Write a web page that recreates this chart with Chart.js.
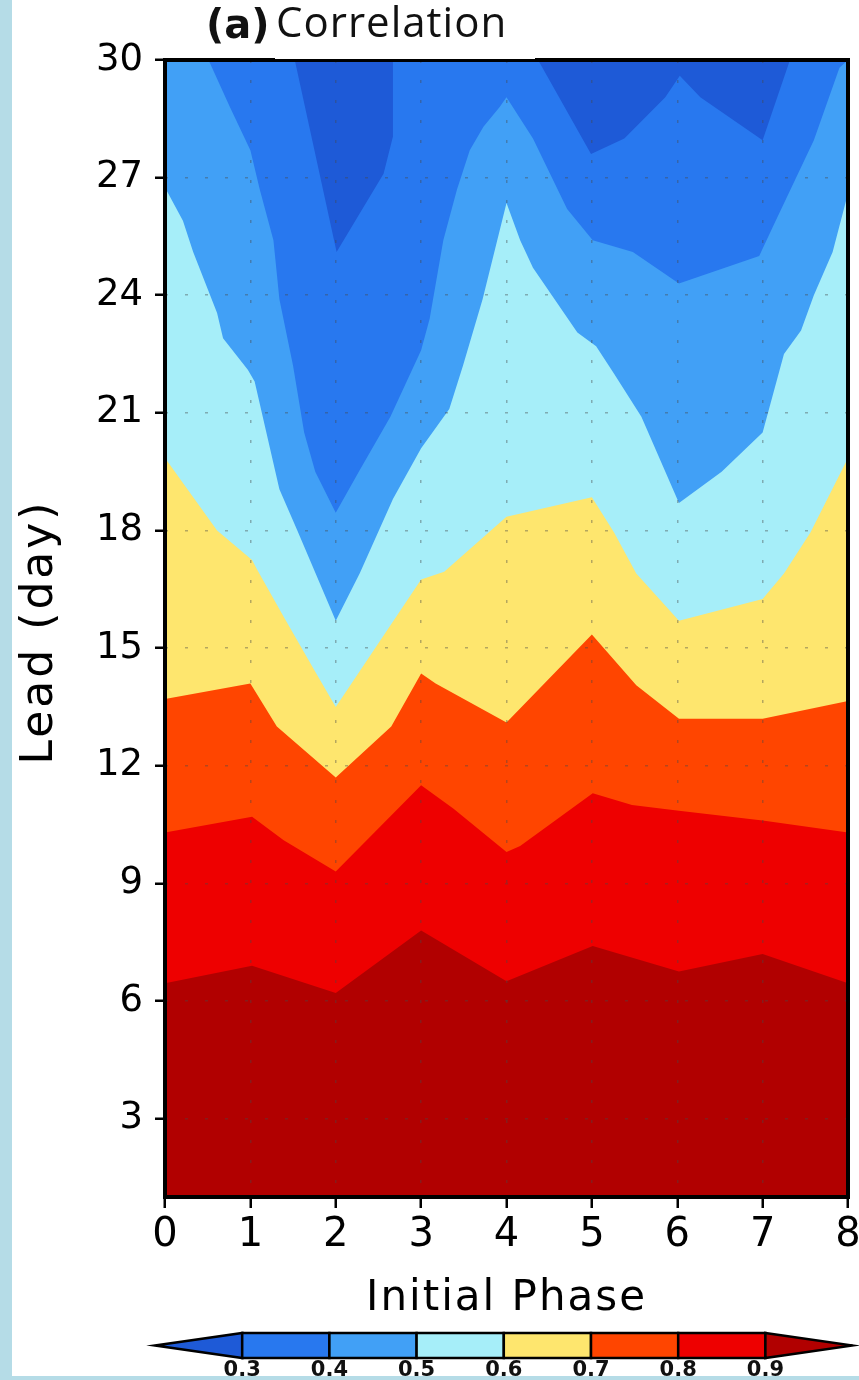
<!DOCTYPE html>
<html>
<head>
<meta charset="utf-8">
<title>Correlation</title>
<script src="https://cdn.jsdelivr.net/npm/chart.js@4.4.1/dist/chart.umd.min.js"></script>
<style>
  body { margin: 0; background: #b5dce7; }
  #panel { position: absolute; left: 12px; top: 0; width: 847px; height: 1376px; background: #fff; overflow: hidden; }
</style>
</head>
<body>
<div id="panel"><canvas id="corrChart"></canvas></div>
<script>
// contour levels and the colour of each band (below 0.3 ... above 0.9)
const levels = [0.3, 0.4, 0.5, 0.6, 0.7, 0.8, 0.9];
const bandColors = ["#1e5ad7", "#2878ef", "#41a0f6", "#a6eef9", "#fee66e", "#ff4500", "#ee0000", "#b10000"];

const phaseTicks = [0, 1, 2, 3, 4, 5, 6, 7, 8];
const leadTicks = [3, 6, 9, 12, 15, 18, 21, 24, 27, 30];
const phaseRange = [0, 8];
const leadRange = [1, 30];

// where the correlation crosses each level: [initial phase, lead day]
const line03 = [[0, 30], [1.52, 30], [2.01, 25.1], [2.56, 27.1], [2.67, 28.05], [2.67, 30], [4.37, 30],
  [4.99, 27.6], [5.38, 28.0], [5.86, 29.05], [6.03, 29.6], [6.27, 29.05], [7.0, 27.95], [7.32, 30], [8, 30]];
const line04 = [[0, 30], [0.51, 30], [0.76, 28.8], [1.0, 27.7], [1.11, 26.7], [1.27, 25.4], [1.34, 23.9],
  [1.5, 22.2], [1.63, 20.5], [1.76, 19.5], [2.0, 18.45], [2.27, 19.5], [2.64, 20.9], [3.0, 22.6], [3.1, 23.4],
  [3.26, 25.4], [3.42, 26.7], [3.57, 27.7], [3.73, 28.3], [3.92, 28.8], [4.0, 29.05], [4.31, 28.0],
  [4.71, 26.2], [5.01, 25.4], [5.48, 25.1], [6.02, 24.3], [6.96, 25.0], [7.12, 25.75], [7.6, 27.95],
  [7.9, 29.8], [8, 30]];
const line05 = [[0, 26.75], [0.21, 25.9], [0.33, 25.1], [0.61, 23.55], [0.68, 22.9], [0.97, 22.1],
  [1.05, 21.8], [1.34, 19.05], [1.55, 18.0], [2.0, 15.7], [2.28, 16.9], [2.67, 18.8], [3.0, 20.1],
  [3.33, 21.1], [3.49, 22.2], [3.72, 23.9], [4.0, 26.35], [4.16, 25.4], [4.31, 24.7], [4.83, 23.05],
  [5.05, 22.7], [5.26, 22.0], [5.58, 20.9], [6.02, 18.7], [6.52, 19.5], [7.0, 20.5], [7.25, 22.5],
  [7.45, 23.1], [7.6, 24.0], [7.82, 25.1], [8, 26.6]];
const line06 = [[0, 19.85], [0.61, 18.0], [1.02, 17.25], [1.08, 17.0], [1.39, 15.8], [1.76, 14.4],
  [2.0, 13.5], [3.0, 16.75], [3.27, 16.95], [4.0, 18.35], [5.0, 18.85], [5.26, 17.95], [5.52, 16.9],
  [6.02, 15.7], [7.0, 16.25], [7.25, 16.9], [7.56, 17.95], [8, 19.85]];
const line07 = [[0, 13.7], [1.0, 14.1], [1.31, 13.0], [2.0, 11.7], [2.65, 13.0], [3.0, 14.35], [3.17, 14.1],
  [4.0, 13.1], [5.0, 15.35], [5.52, 14.05], [6.02, 13.2], [7.0, 13.2], [8, 13.65]];
const line08 = [[0, 10.3], [1.02, 10.7], [1.39, 10.1], [2.0, 9.3], [3.0, 11.5], [3.38, 10.9], [4.0, 9.8],
  [4.16, 9.95], [5.01, 11.3], [5.47, 11.0], [6.02, 10.85], [7.0, 10.6], [8, 10.3]];
const line09 = [[0, 6.45], [1.02, 6.9], [2.0, 6.2], [3.0, 7.8], [4.0, 6.5], [5.01, 7.4], [6.02, 6.75],
  [7.0, 7.2], [8, 6.45]];

const contourLines = [line03, line04, line05, line06, line07, line08, line09];

// each band is filled from its lower level line down to the axis,
// higher levels are painted over the lower ones
const datasets = [{
  label: "< " + levels[0],
  data: phaseRange.map((p) => ({ x: p, y: leadRange[1] })),
  backgroundColor: bandColors[0],
  order: contourLines.length + 1,
}];
contourLines.forEach((pts, i) => {
  datasets.push({
    label: String(levels[i]),
    data: pts.map(([x, y]) => ({ x, y })),
    backgroundColor: bandColors[i + 1],
    order: contourLines.length - i,
  });
});
datasets.forEach((d) => {
  d.showLine = true;
  d.fill = "start";
  d.borderWidth = 0;
  d.borderColor = "rgba(0,0,0,0)";
  d.pointRadius = 0;
  d.pointHoverRadius = 0;
});

// frame, titles and colour bar
const panelPlugin = {
  id: "panel",
  afterDraw(chart) {
    const { ctx, chartArea: a } = chart;
    ctx.save();
    ctx.lineWidth = 4;
    ctx.strokeStyle = "#000";
    ctx.strokeRect(a.left, a.top, a.right - a.left, a.bottom - a.top);

    // title
    ctx.fillStyle = "#fff";
    ctx.fillRect(263, 0, 260, 59);
    ctx.fillStyle = "#111";
    ctx.textAlign = "left";
    ctx.textBaseline = "alphabetic";
    ctx.font = "bold 40px 'DejaVu Sans'";
    ctx.fillText("(a)", 194, 38);
    ctx.font = "42px 'Open Sans'";
    ctx.letterSpacing = "1px";
    ctx.fillText("Correlation", 264, 37);

    // axis titles
    ctx.fillStyle = "#000";
    ctx.textAlign = "center";
    ctx.font = "42px 'DejaVu Sans'";
    ctx.letterSpacing = "2px";
    ctx.fillText("Initial Phase", (a.left + a.right) / 2, 1310);
    ctx.save();
    ctx.translate(40, 632);
    ctx.rotate(-Math.PI / 2);
    ctx.font = "44px 'DejaVu Sans'";
    ctx.letterSpacing = "3px";
    ctx.fillText("Lead (day)", 0, 0);
    ctx.restore();
    ctx.letterSpacing = "0px";

    // colour bar with triangular ends
    const segW = 87.2, x0 = 143, top = 1333, bot = 1358, mid = (top + bot) / 2;
    const n = bandColors.length;
    bandColors.forEach((c, i) => {
      const l = x0 + i * segW, r = l + segW;
      ctx.beginPath();
      if (i === 0) {
        ctx.moveTo(l, mid); ctx.lineTo(r, top); ctx.lineTo(r, bot);
      } else if (i === n - 1) {
        ctx.moveTo(l, top); ctx.lineTo(r, mid); ctx.lineTo(l, bot);
      } else {
        ctx.rect(l, top, segW, bot - top);
      }
      ctx.closePath();
      ctx.fillStyle = c;
      ctx.fill();
      ctx.lineWidth = 2.5;
      ctx.strokeStyle = "#000";
      ctx.stroke();
    });
    ctx.fillStyle = "#111";
    ctx.font = "bold 21px 'DejaVu Sans'";
    ctx.textAlign = "center";
    levels.forEach((v, i) => {
      ctx.fillText(v.toFixed(1), x0 + (i + 1) * segW, 1376);
    });
    ctx.restore();
  },
};

const gridStyle = {
  color: "rgba(70,70,70,0.4)",
  lineWidth: 1.5,
  z: 1,
  drawTicks: true,
  tickColor: "#000",
  tickWidth: 2.5,
};

new Chart(document.getElementById("corrChart"), {
  type: "scatter",
  data: { datasets },
  options: {
    responsive: true,
    maintainAspectRatio: false,
    animation: false,
    layout: { padding: { top: 60, right: 11, left: 0, bottom: 0 } },
    plugins: { legend: { display: false }, tooltip: { enabled: false } },
    scales: {
      x: {
        type: "linear",
        min: phaseRange[0],
        max: phaseRange[1],
        afterBuildTicks: (s) => { s.ticks = phaseTicks.map((v) => ({ value: v })); },
        afterFit: (s) => { s.height = 179; s.paddingLeft = 0; s.paddingRight = 0; },
        grid: Object.assign({ tickLength: 11 }, gridStyle),
        border: { display: false, dash: [3, 17] },
        ticks: { color: "#000", padding: 4, maxRotation: 0, font: { family: "DejaVu Sans", size: 40 } },
      },
      y: {
        type: "linear",
        min: leadRange[0],
        max: leadRange[1],
        afterBuildTicks: (s) => { s.ticks = leadTicks.map((v) => ({ value: v })); },
        afterFit: (s) => { s.width = 153; s.paddingTop = 0; s.paddingBottom = 0; },
        grid: Object.assign({ tickLength: 10 }, gridStyle),
        border: { display: false, dash: [3, 17] },
        ticks: { color: "#000", padding: 12, font: { family: "DejaVu Sans", size: 37 } },
      },
    },
  },
  plugins: [panelPlugin],
});
</script>
</body>
</html>
